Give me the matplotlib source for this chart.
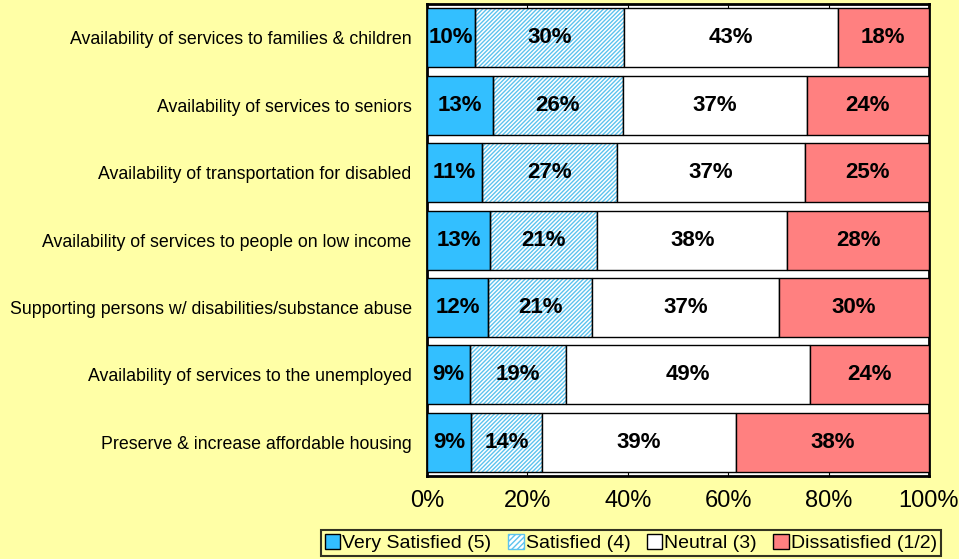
import matplotlib
matplotlib.use("Agg")
import matplotlib.pyplot as plt
from matplotlib.patches import Patch
from matplotlib.ticker import FuncFormatter, MultipleLocator

plt.rcParams['font.family'] = ['Liberation Sans', 'DejaVu Sans']

categories = [
    "Availability of services to families & children",
    "Availability of services to seniors",
    "Availability of transportation for disabled",
    "Availability of services to people on low income",
    "Supporting persons w/ disabilities/substance abuse",
    "Availability of services to the unemployed",
    "Preserve & increase affordable housing",
]
very_satisfied = [9.6, 13.1, 11.0, 12.6, 12.2, 8.6, 8.8]
satisfied = [29.6, 25.9, 26.9, 21.3, 20.7, 19.1, 14.1]
neutral = [42.6, 36.6, 37.4, 37.9, 37.2, 48.6, 38.7]
dissatisfied = [18.2, 24.4, 24.7, 28.2, 29.9, 23.7, 38.4]
series_names = ["Very Satisfied (5)", "Satisfied (4)", "Neutral (3)", "Dissatisfied (1/2)"]

bg = "#FFFFA6"
c_vs = "#33BFFF"
c_sat = "#5CC3EE"
c_neu = "#FFFFFF"
c_dis = "#FF8080"

fig = plt.figure(figsize=(9.59, 5.59), dpi=100, facecolor=bg)
ax = fig.add_axes([427/959, 1-476/559, (929-427)/959, (476-4)/559])
ax.set_facecolor("white")

y = list(range(len(categories)))
h = 0.875
left = [0]*len(categories)
series = [very_satisfied, satisfied, neutral, dissatisfied]
for i, vals in enumerate(series):
    if i == 1:
        ax.barh(y, vals, left=left, height=h, color="white", edgecolor=c_sat,
                hatch="////////", linewidth=0, zorder=2)
        ax.barh(y, vals, left=left, height=h, fill=False, edgecolor="black",
                linewidth=1.0, zorder=3)
    else:
        col = [c_vs, None, c_neu, c_dis][i]
        ax.barh(y, vals, left=left, height=h, color=col, edgecolor="black",
                linewidth=1.0, zorder=3)
    for yi, (l, v) in enumerate(zip(left, vals)):
        ax.text(l + v/2, yi, f"{v:.0f}%", ha="center", va="center",
                fontsize=16, fontweight="bold", zorder=5)
    left = [a + b for a, b in zip(left, vals)]

ax.set_xlim(0, 100)
ax.set_ylim(len(categories)-0.5, -0.5)
ax.set_yticks(y)
ax.set_yticklabels(categories, fontsize=12.8)
ax.tick_params(axis='y', length=0, pad=11)
ax.xaxis.set_major_locator(MultipleLocator(20))
ax.xaxis.set_major_formatter(FuncFormatter(lambda v, p: f"{v:.0f}%"))
ax.tick_params(axis='x', direction='in', length=5, labelsize=17, top=True, pad=10)
for s in ax.spines.values():
    s.set_linewidth(2)

handles = [
    Patch(facecolor=c_vs, edgecolor="black", label=series_names[0]),
    Patch(facecolor="white", edgecolor=c_sat, hatch="//////", label=series_names[1]),
    Patch(facecolor=c_neu, edgecolor="black", label=series_names[2]),
    Patch(facecolor=c_dis, edgecolor="black", label=series_names[3]),
]
leg = fig.legend(handles=handles, loc="center", bbox_to_anchor=(631/959, 1-543/559),
                 ncol=4, frameon=True, fontsize=14, handlelength=0.8, handleheight=0.8,
                 handletextpad=0.1, columnspacing=0.85, borderpad=0.2,
                 fancybox=False, facecolor=bg, edgecolor="black", borderaxespad=0)
leg.get_frame().set_linewidth(1.5)

fig.savefig("out.png", dpi=100, facecolor=bg)
